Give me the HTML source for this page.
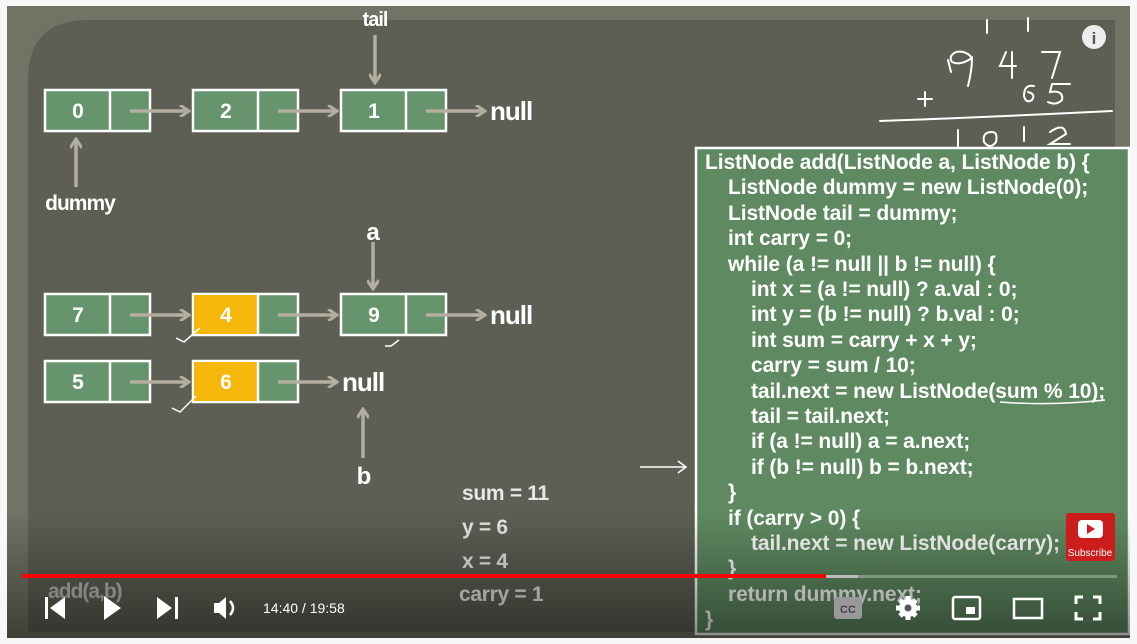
<!DOCTYPE html>
<html><head><meta charset="utf-8"><style>
html,body{margin:0;padding:0;width:1137px;height:644px;overflow:hidden;background:#f7f7f7;font-family:"Liberation Sans",Arial,sans-serif}
svg{position:absolute;left:0;top:0}
</style></head><body>
<svg width="1137" height="644" xmlns="http://www.w3.org/2000/svg">
<defs>
<linearGradient id="shade" x1="0" y1="0" x2="0" y2="1">
<stop offset="0" stop-color="#000" stop-opacity="0"/>
<stop offset="1" stop-color="#000" stop-opacity="0.45"/>
</linearGradient>
<marker id="ah" markerWidth="12" markerHeight="12" refX="9" refY="6" orient="auto" markerUnits="userSpaceOnUse"><path d="M1,0 L10,6 L1,12" fill="none" stroke="#b3ae9f" stroke-width="3"/></marker>
</defs>
<rect x="7" y="6" width="1123" height="632" fill="#727365"/>
<path d="M88,20 H1115 V632 H28 V80 Q28,20 88,20 Z" fill="#5e5f54"/>
<g font-weight="bold" font-size="21" fill="#fff" text-anchor="middle">
<g stroke="#fff" stroke-width="2.5">
<rect x="45" y="90" width="105" height="41" fill="#66946c"/><line x1="110" y1="90" x2="110" y2="131"/>
<rect x="193" y="90" width="105" height="41" fill="#66946c"/><line x1="258" y1="90" x2="258" y2="131"/>
<rect x="341" y="90" width="105" height="41" fill="#66946c"/><line x1="406" y1="90" x2="406" y2="131"/>
<rect x="45" y="294" width="105" height="41" fill="#66946c"/><line x1="110" y1="294" x2="110" y2="335"/>
<rect x="193" y="294" width="105" height="41" fill="#66946c"/><rect x="194" y="295" width="64" height="39" fill="#f5b70a" stroke="none"/><line x1="258" y1="294" x2="258" y2="335"/>
<rect x="341" y="294" width="105" height="41" fill="#66946c"/><line x1="406" y1="294" x2="406" y2="335"/>
<rect x="45" y="361" width="105" height="41" fill="#66946c"/><line x1="110" y1="361" x2="110" y2="402"/>
<rect x="193" y="361" width="105" height="41" fill="#66946c"/><rect x="194" y="362" width="64" height="39" fill="#f5b70a" stroke="none"/><line x1="258" y1="361" x2="258" y2="402"/>
</g>
<text x="78" y="118">0</text><text x="226" y="118">2</text><text x="374" y="118">1</text>
<text x="78" y="322">7</text><text x="226" y="322">4</text><text x="374" y="322">9</text>
<text x="78" y="389">5</text><text x="226" y="389">6</text>
<g stroke="#b3ae9f" stroke-width="3.5" marker-end="url(#ah)">
<line x1="130" y1="111" x2="188" y2="111"/><line x1="278" y1="111" x2="336" y2="111"/><line x1="426" y1="111" x2="484" y2="111"/>
<line x1="130" y1="315" x2="188" y2="315"/><line x1="278" y1="315" x2="336" y2="315"/><line x1="426" y1="315" x2="484" y2="315"/>
<line x1="130" y1="382" x2="188" y2="382"/><line x1="278" y1="382" x2="336" y2="382"/>
<line x1="375" y1="35" x2="375" y2="82"/><line x1="373" y1="242" x2="373" y2="288"/>
<line x1="76" y1="187" x2="76" y2="140"/><line x1="363" y1="458" x2="363" y2="410"/>
</g>
<g font-size="26" text-anchor="start" letter-spacing="-1"><text x="490" y="120">null</text><text x="490" y="324">null</text><text x="342" y="391">null</text></g>
<text x="375" y="26" font-size="20" letter-spacing="-1">tail</text><text x="373" y="240" font-size="24">a</text>
<text x="80" y="210" font-size="21" letter-spacing="-1">dummy</text><text x="364" y="484" font-size="24">b</text>
<g fill="#e8e8e8" font-size="21" text-anchor="start" letter-spacing="-0.3"><text x="462" y="500">sum = 11</text><text x="462" y="534">y = 6</text><text x="462" y="568">x = 4</text><text x="459" y="601">carry = 1</text></g>
<text x="48" y="598" font-size="21" text-anchor="start" fill="#bbb" letter-spacing="-1">add(a,b)</text>
<g stroke="#fff" stroke-width="1.5" fill="none"><path d="M176,338 l8,4 l16,-14"/><path d="M172,408 l8,4 l16,-16"/><path d="M385,346 l6,0 l8,-6"/><path d="M640,467 H686 M678,461 L686,467 L678,473"/></g>
</g>
<g stroke="#fff" stroke-width="2" fill="none" stroke-linecap="round">
<path d="M987,20 v13 M1028,18 v13"/>
<path d="M948,60 l3,12"/>
<path d="M972,58 q-6,-8 -16,-6 q-8,4 -4,10 q8,4 20,-4 q0,12 -4,28"/>
<path d="M1006,52 l-6,14 h16 M1012,52 v26"/>
<path d="M1042,52 h18 l-8,26"/>
<path d="M918,99 h14 M925,92 v14"/>
<path d="M1034,86 q-10,-2 -10,10 q2,8 8,4 q4,-6 -4,-8"/>
<path d="M1052,84 h18 M1052,84 l-2,8 q14,-2 12,8 q-6,6 -14,2"/>
<path d="M880,121 q110,-4 232,-10"/>
<path d="M958,130 v18"/>
<path d="M992,132 q-10,0 -8,10 q6,8 12,0 q2,-10 -4,-10"/>
<path d="M1024,127 v14"/>
<path d="M1050,132 q14,-10 16,2 l-16,10 h20"/></g>
<g>
<rect x="696" y="148" width="433" height="486" fill="#5f8a61" stroke="#fff" stroke-width="2.5"/>
<g fill="#fff" font-size="21" font-weight="bold" letter-spacing="-0.1">
<text x="705" y="169">ListNode add(ListNode a, ListNode b) {</text>
<text x="728" y="194">ListNode dummy = new ListNode(0);</text>
<text x="728" y="220">ListNode tail = dummy;</text>
<text x="728" y="245">int carry = 0;</text>
<text x="728" y="271">while (a != null || b != null) {</text>
<text x="751" y="296">int x = (a != null) ? a.val : 0;</text>
<text x="751" y="321">int y = (b != null) ? b.val : 0;</text>
<text x="751" y="347">int sum = carry + x + y;</text>
<text x="751" y="372">carry = sum / 10;</text>
<text x="751" y="398">tail.next = new ListNode(sum % 10);</text>
<text x="751" y="423">tail = tail.next;</text>
<text x="751" y="448">if (a != null) a = a.next;</text>
<text x="751" y="474">if (b != null) b = b.next;</text>
<text x="728" y="499">}</text>
<text x="728" y="525">if (carry &gt; 0) {</text>
<text x="751" y="550">tail.next = new ListNode(carry);</text>
<text x="728" y="575">}</text>
<text x="728" y="601">return dummy.next;</text>
<text x="705" y="626">}</text>
</g>
<path d="M1000,402 q50,4 105,-2" stroke="#fff" stroke-width="1.5" fill="none"/>
</g>
<rect x="7" y="510" width="1123" height="128" fill="url(#shade)"/>
<g><circle cx="1094" cy="37" r="12" fill="#eee"/><text x="1094" y="44" fill="#555" font-size="17" font-weight="bold" text-anchor="middle">i</text></g>
<g><rect x="1066" y="513" width="49" height="48" rx="3" fill="#cc1d1d"/><rect x="1078" y="520" width="25" height="18" rx="4" fill="#fff"/><path d="M1087,524 L1095,529 L1087,534Z" fill="#cc1d1d"/><text x="1090" y="556" font-size="10" fill="#fff" text-anchor="middle">Subscribe</text></g>
<g><rect x="22" y="575" width="1095" height="3" fill="rgba(255,255,255,0.3)"/><rect x="826" y="575" width="32" height="3" fill="#bbb"/><rect x="22" y="574" width="804" height="4" fill="#f00"/></g>
<g fill="#fff">
<g><rect x="45" y="597" width="3" height="22"/><path d="M65,597 L50,608 L65,619Z"/></g>
<path d="M104,596 L121,608 L104,620Z"/>
<g><path d="M157,597 L172,608 L157,619Z"/><rect x="175" y="597" width="3" height="22"/></g>
<g><path d="M214,603 h5 l7,-6 v22 l-7,-6 h-5Z"/><path d="M230,601 q6,7 0,14" stroke="#fff" stroke-width="2.5" fill="none"/></g>
<text x="263" y="613" font-size="14">14:40 / 19:58</text>
<g><rect x="834" y="597" width="28" height="22" rx="3" fill="#999"/><text x="848" y="613" font-size="11" font-weight="bold" fill="#444" text-anchor="middle">CC</text></g>
<g><g stroke="#fff" stroke-width="5"><line x1="908" y1="596" x2="908" y2="620"/><line x1="896" y1="608" x2="920" y2="608"/><line x1="900" y1="600" x2="916" y2="616"/><line x1="916" y1="600" x2="900" y2="616"/></g><circle cx="908" cy="608" r="9" fill="#fff"/><circle cx="908" cy="608" r="3.5" fill="#555"/></g>
<g fill="none" stroke="#fff" stroke-width="2.5"><rect x="953" y="597" width="27" height="22" rx="2"/><rect x="966" y="607" width="9" height="7" fill="#fff" stroke="none"/></g>
<rect x="1014" y="599" width="28" height="19" fill="none" stroke="#fff" stroke-width="2.5"/>
<path d="M1076,604 v-7 h7 M1093,597 h7 v7 M1100,612 v7 h-7 M1083,619 h-7 v-7" stroke="#fff" stroke-width="3" fill="none"/>
</g>
</svg>
</body></html>
